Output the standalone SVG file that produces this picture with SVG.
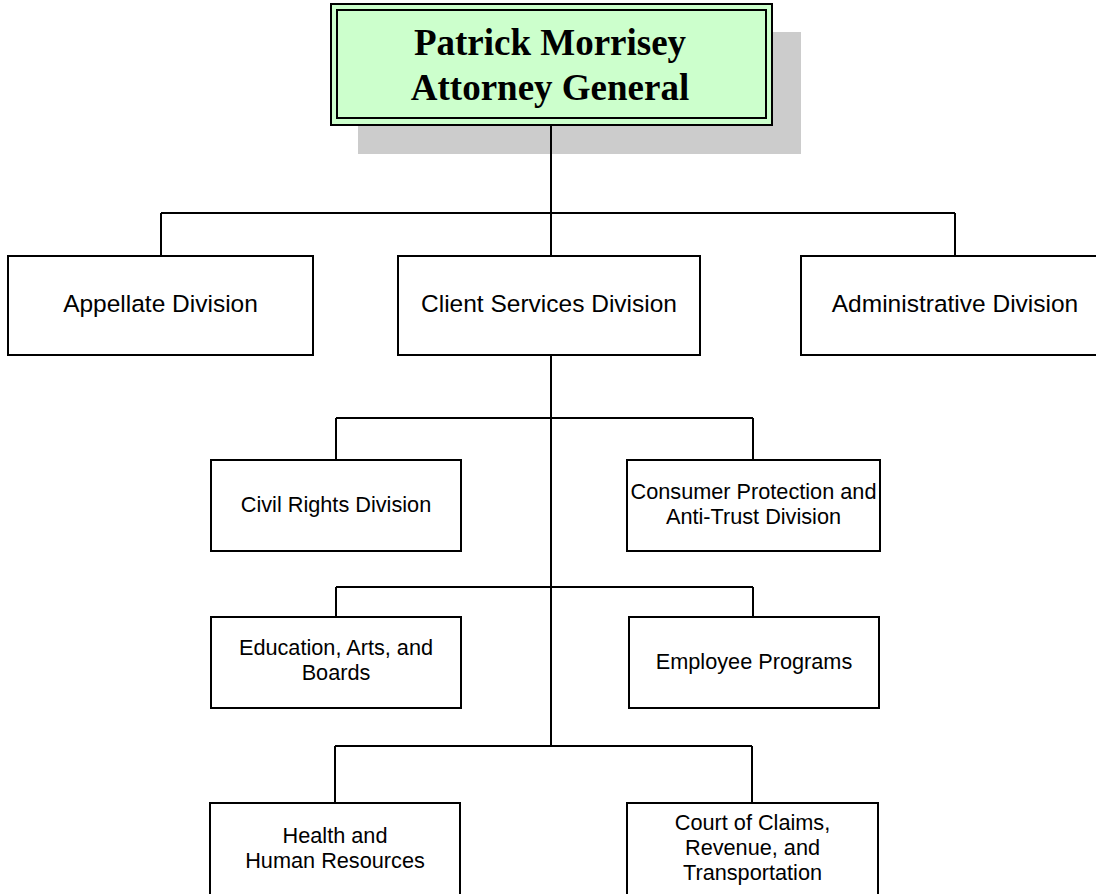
<svg xmlns="http://www.w3.org/2000/svg" width="1096" height="894" viewBox="0 0 1096 894">
<style>
.box{fill:#ffffff;stroke:#000;stroke-width:2}
.ln{fill:none;stroke:#000;stroke-width:2}
.t24{font-family:"Liberation Sans",Arial,sans-serif;font-size:24.5px;fill:#000;text-anchor:middle}
.t21{font-family:"Liberation Sans",Arial,sans-serif;font-size:21.7px;fill:#000;text-anchor:middle}
.tt{font-family:"Liberation Serif","Times New Roman",serif;font-size:37px;font-weight:bold;fill:#000;text-anchor:middle}
</style>
<rect width="1096" height="894" fill="#ffffff"/>
<g id="attorney-general">
<rect x="358" y="32" width="443" height="122" fill="#cccccc"/>
<rect x="331" y="4" width="441" height="121" fill="#ccffcc" stroke="#000" stroke-width="2"/>
<rect x="337" y="10" width="429" height="108" fill="none" stroke="#000" stroke-width="2"/>
<text class="tt" x="550" y="55">Patrick Morrisey</text>
<text class="tt" x="550" y="100">Attorney General</text>
</g>
<g id="connectors">
<path class="ln" d="M551 125V213M161 213H955M161 213V256M955 213V256M551 213V256"/>
<path class="ln" d="M551 355V746M336 418H753M336 418V460M753 418V460"/>
<path class="ln" d="M336 587H753M336 587V617M753 587V617"/>
<path class="ln" d="M335 746H752M335 746V803M752 746V803"/>
</g>
<g id="appellate"><rect class="box" x="8" y="256" width="305" height="99"/><text class="t24" x="160.5" y="312">Appellate Division</text></g>
<g id="client-services"><rect class="box" x="398" y="256" width="302" height="99"/><text class="t24" x="549" y="312">Client Services Division</text></g>
<g id="administrative"><rect class="box" x="801" y="256" width="308" height="99"/><text class="t24" x="955" y="312">Administrative Division</text></g>
<g id="civil-rights"><rect class="box" x="211" y="460" width="250" height="91"/><text class="t21" x="336" y="512">Civil Rights Division</text></g>
<g id="consumer-protection"><rect class="box" x="627" y="460" width="253" height="91"/><text class="t21" x="753.5" y="499">Consumer Protection and</text><text class="t21" x="753.5" y="524">Anti-Trust Division</text></g>
<g id="education"><rect class="box" x="211" y="617" width="250" height="91"/><text class="t21" x="336" y="655">Education, Arts, and</text><text class="t21" x="336" y="680">Boards</text></g>
<g id="employee-programs"><rect class="box" x="629" y="617" width="250" height="91"/><text class="t21" x="754" y="669">Employee Programs</text></g>
<g id="health"><rect class="box" x="210" y="803" width="250" height="100"/><text class="t21" x="335" y="843">Health and</text><text class="t21" x="335" y="868">Human Resources</text></g>
<g id="court-of-claims"><rect class="box" x="627" y="803" width="251" height="100"/><text class="t21" x="752.5" y="830">Court of Claims,</text><text class="t21" x="752.5" y="855">Revenue, and</text><text class="t21" x="752.5" y="880">Transportation</text></g>
</svg>
